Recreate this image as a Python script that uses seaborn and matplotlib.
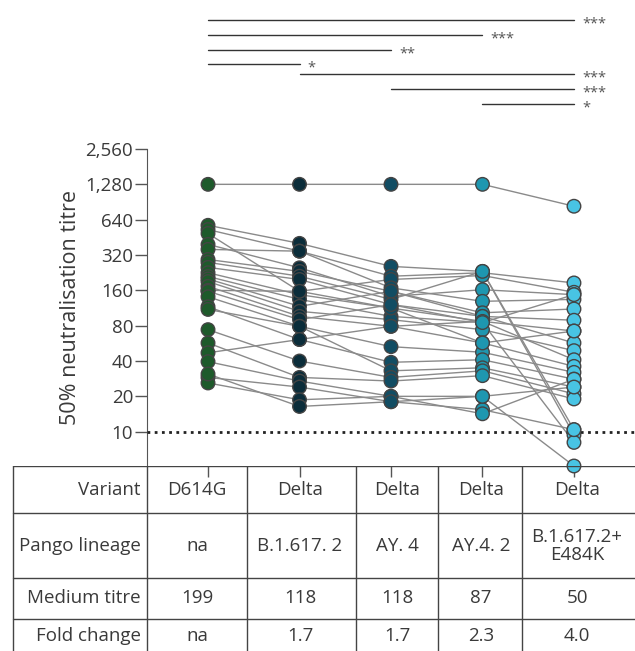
import matplotlib
matplotlib.use('Agg')
import matplotlib.pyplot as plt
import matplotlib.ticker as mticker
import pandas as pd
import seaborn as sns

# columns of the chart
variants = ['D614G', 'Delta', 'AY.4', 'AY.4.2', 'E484K']
palette = ['#1e5a2b', '#0b2d3a', '#124d63', '#1e97b0', '#48c4e4']

# titres per subject (same order in every list)
d614g = [1280, 573, 527, 488, 394, 357, 293, 277, 251, 226, 210, 200, 190,
         173, 160, 157, 141, 116, 110, 74, 57, 47, 39.5, 29, 26, 31]
delta = [1280, 402, 345, 157, 249, 345, 232, 211, 198, 147, 134, 117, 106,
         96, 157, 90, 79, 61, 79, 40, 29, 61, 27, 24, 18.7, 16.4]
ay4 = [1280, 256, 211, 198, 142, 168, 157, 134, 121, 113, 96, 157, 90,
       79, 113, 121, 53, 39, 33, 29, 27, 79, 20, 18, 20, 18]
ay42 = [1280, 232, 226, 214, 162, 129, 103, 232, 96, 87, 85, 96, 74,
        87, 57, 85, 47.5, 41, 35, 33, 30, 57, 20, 15.4, 14.2, 20]
e484k = [833, 10.4, 185, 154, 147, 134, 111, 9.4, 89, 72, 8.1, 57, 49,
         41, 36, 147, 32, 28, 24, 21, 19, 72, 5.1, 10.4, 28, 24]

yticks = [10, 20, 40, 80, 160, 320, 640, 1280, 2560]

# significance bars: (from column, to column, stars)
sig_from = [0, 0, 0, 0, 1, 2, 3]
sig_to = [4, 3, 2, 1, 4, 4, 4]
sig_stars = ['***', '***', '**', '*', '***', '***', '*']

# table under the plot
row_labels = ['Variant', 'Pango lineage', 'Medium titre', 'Fold change']
row_variant = ['D614G', 'Delta', 'Delta', 'Delta', 'Delta']
row_pango = ['na', 'B.1.617. 2', 'AY. 4', 'AY.4. 2', 'B.1.617.2+\nE484K']
row_median = ['199', '118', '118', '87', '50']
row_fold = ['na', '1.7', '1.7', '2.3', '4.0']

rows = []
for name, vals in zip(variants, [d614g, delta, ay4, ay42, e484k]):
    for i, v in enumerate(vals):
        rows.append({'subject': i, 'variant': name, 'pos': variants.index(name), 'titre': v})
df = pd.DataFrame(rows)

sns.set_style('white')
plt.rcParams['font.family'] = ['Open Sans', 'DejaVu Sans']
txt = '#3a3a3a'

W, H = 635, 651
fig = plt.figure(figsize=(W / 100, H / 100), dpi=100)
ax = fig.add_axes([147 / W, 1 - 466 / H, 488 / W, 317 / H])

sns.lineplot(data=df, x='pos', y='titre', units='subject', estimator=None, sort=False,
             color='#8a8a8a', lw=1, ax=ax, legend=False)
sns.scatterplot(data=df, x='pos', y='titre', hue='variant', palette=palette, s=95,
                edgecolor='#444444', linewidth=1, ax=ax, legend=False, zorder=5, clip_on=False)
ax.axhline(10, color='#222222', ls=(0, (1, 1.6)), lw=2, zorder=3)

ax.set_yscale('log', base=2)
ax.set_ylim(5.1, 2560)
ax.set_xlim(-0.667, 4.667)
ax.set_yticks(yticks)
ax.yaxis.set_major_formatter(mticker.FuncFormatter(lambda v, p: '{:,}'.format(int(v))))
ax.yaxis.set_minor_locator(mticker.NullLocator())
ax.set_xticks(range(len(variants)))
ax.tick_params(axis='x', bottom=True, length=8, width=1, color='#555555', labelbottom=False, direction='out')
ax.tick_params(axis='y', left=True, length=9, width=1, color='#555555', labelsize=13.5, labelcolor=txt, pad=1)
for s in ['top', 'right', 'bottom']:
    ax.spines[s].set_visible(False)
ax.spines['left'].set_color('#555555')
ax.set_xlabel('')
ax.set_ylabel('50% neutralisation titre', fontsize=15.5, color=txt)
ax.yaxis.set_label_coords(-0.135, 0.5)

# significance bars above the plot
bar_y = [20, 35, 50, 64, 74, 89, 104]
tr = ax.get_xaxis_transform()
for a, b, st, yp in zip(sig_from, sig_to, sig_stars, bar_y):
    yy = (466 - yp) / 317
    ax.plot([a, b], [yy, yy], transform=tr, color='#333333', lw=1, clip_on=False)
    ax.text(b + 0.09, yy - 0.014, st, transform=tr, fontsize=10.5, color='#555555',
            va='center', ha='left')

# table
tax = fig.add_axes([0, 0, 1, 185 / H])
tax.set_xlim(0, W)
tax.set_ylim(185, 0)
tax.axis('off')
col_edges = [13, 147, 247, 356, 438, 522]
row_edges = [0, 47, 112, 153]
for y in row_edges:
    tax.plot([13, W], [y, y], color='#444444', lw=1)
for x in col_edges:
    tax.plot([x, x], [0, 185], color='#444444', lw=1)
centers = [197, 300, 397, 481, 577]
row_y = [24, 80, 132, 170]
for lab, yc in zip(row_labels, row_y):
    tax.text(141, yc, lab, ha='right', va='center', fontsize=13.5, color=txt)
for vals, yc in zip([row_variant, row_pango, row_median, row_fold], row_y):
    for xc, v in zip(centers, vals):
        tax.text(xc, yc, v, ha='center', va='center', fontsize=13.5, color=txt,
                 linespacing=1.05)

fig.savefig('out.png', dpi=100)
